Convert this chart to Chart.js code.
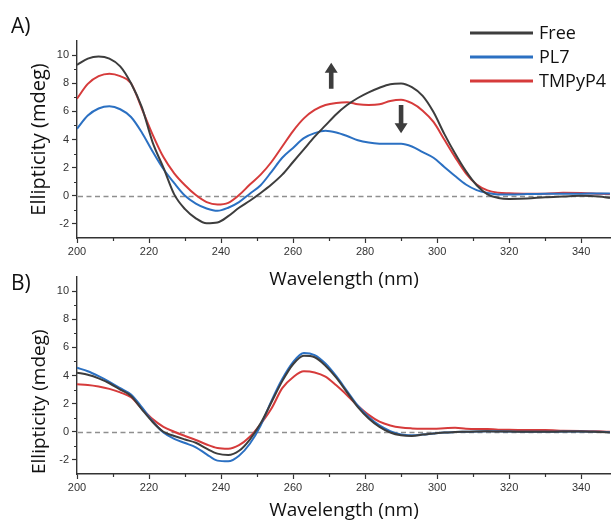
<!DOCTYPE html>
<html>
<head>
<meta charset="utf-8">
<script src="https://cdn.jsdelivr.net/npm/chart.js@4.4.1/dist/chart.umd.min.js"></script>
<style>
  html, body { margin: 0; padding: 0; background: #ffffff; overflow: hidden; width: 611px; height: 522px; }
  .panel { position: absolute; left: 0; width: 611px; }
  #panelA { top: 0; height: 292px; }
  #panelB { top: 262px; height: 260px; }
  canvas { display: block; }
</style>
</head>
<body>
<div class="panel" id="panelA"><canvas id="chartA" width="611" height="292"></canvas></div>
<div class="panel" id="panelB"><canvas id="chartB" width="611" height="260"></canvas></div>
<script>
// CD spectra, wavelength in nm, ellipticity in mdeg
const wavelengthNm = [200, 203, 206, 209, 212, 215, 218, 221, 224, 227, 230, 233, 236, 239, 242, 245, 248,
  251, 254, 257, 260, 263, 266, 269, 272, 275, 278, 281, 284, 287, 290, 293, 296, 299, 302, 305, 308,
  311, 314, 317, 320, 325, 330, 335, 340, 345, 348];

// Panel A
const freeA = [9.3, 9.75, 9.9, 9.75, 9.2, 8.0, 6.3, 3.8, 2.0, 0.1, -0.95, -1.6, -1.95, -1.9, -1.45, -0.85, -0.35,
  0.2, 0.8, 1.5, 2.4, 3.3, 4.2, 5.0, 5.8, 6.45, 6.95, 7.35, 7.68, 7.93, 7.98, 7.72, 7.1, 5.95, 4.4, 3.0, 1.75,
  0.75, 0.1, -0.15, -0.22, -0.2, -0.1, -0.05, 0.0, -0.05, -0.15];
const pl7A = [4.76, 5.7, 6.2, 6.36, 6.15, 5.6, 4.5, 3.15, 1.9, 0.9, 0.0, -0.55, -0.9, -1.07, -0.85, -0.45, 0.15,
  0.75, 1.7, 2.7, 3.4, 4.1, 4.45, 4.62, 4.5, 4.25, 3.95, 3.78, 3.7, 3.69, 3.69, 3.5, 3.1, 2.7, 2.05, 1.4, 0.8,
  0.4, 0.2, 0.1, 0.1, 0.12, 0.15, 0.15, 0.15, 0.17, 0.17];
const tmpyp4A = [6.9, 7.95, 8.5, 8.68, 8.5, 8.0, 6.2, 4.35, 2.75, 1.6, 0.75, 0.05, -0.45, -0.62, -0.5, 0.05, 0.8,
  1.5, 2.4, 3.5, 4.6, 5.5, 6.1, 6.45, 6.6, 6.65, 6.5, 6.45, 6.5, 6.74, 6.83, 6.58, 6.05, 5.25, 4.0, 2.75, 1.6,
  0.8, 0.38, 0.22, 0.18, 0.15, 0.15, 0.22, 0.2, 0.15, 0.12];

// Panel B
const freeB = [4.2, 4.05, 3.8, 3.45, 3.0, 2.55, 1.6, 0.7, 0.0, -0.3, -0.55, -0.78, -1.2, -1.55, -1.65, -1.35, -0.55,
  0.6, 2.1, 3.6, 4.8, 5.4, 5.3, 4.7, 3.85, 2.8, 1.75, 0.95, 0.35, -0.05, -0.25, -0.3, -0.2, -0.12, -0.05, -0.02, 0.0,
  0.02, 0.03, 0.02, 0.02, 0.0, 0.0, 0.02, 0.02, -0.02, -0.05];
const pl7B = [4.55, 4.3, 3.95, 3.55, 3.1, 2.65, 1.75, 0.75, -0.05, -0.5, -0.8, -1.1, -1.6, -2.05, -2.1, -1.7, -0.85,
  0.45, 2.2, 3.75, 4.95, 5.6, 5.45, 4.85, 3.95, 2.9, 1.85, 1.05, 0.45, 0.05, -0.2, -0.25, -0.2, -0.12, -0.05, -0.02, 0.0,
  0.02, 0.03, 0.03, 0.02, 0.0, 0.0, 0.02, 0.02, 0.0, -0.03];
const tmpyp4B = [3.37, 3.33, 3.22, 3.05, 2.8, 2.45, 1.65, 0.9, 0.35, 0.0, -0.3, -0.58, -0.9, -1.15, -1.2, -0.95, -0.35,
  0.55, 1.65, 3.1, 3.88, 4.3, 4.22, 3.92, 3.3, 2.6, 1.85, 1.2, 0.72, 0.45, 0.3, 0.24, 0.22, 0.22, 0.25, 0.28, 0.22,
  0.2, 0.2, 0.15, 0.15, 0.12, 0.12, 0.08, 0.05, 0.03, 0.0];

const seriesNames = ['Free', 'PL7', 'TMPyP4'];
const seriesColors = ['#3d3d3d', '#2b70c2', '#d63b3b'];

const xTickValues = [200, 220, 240, 260, 280, 300, 320, 340];
const xMinorValues = [210, 230, 250, 270, 290, 310, 330];
const yTickValues = [-2, 0, 2, 4, 6, 8, 10];
const yMinorValues = [-1, 1, 3, 5, 7, 9];

// trend arrows in panel A (wavelength, start, end in mdeg)
const arrowMarks = [
  { x: 270.6, from: 7.6, to: 9.45 },
  { x: 290.0, from: 6.45, to: 4.45 }
];

const TITLE_FONT = '"Open Sans", "DejaVu Sans", sans-serif';
const TICK_FONT = '"Liberation Sans", Arial, sans-serif';

const decorPlugin = {
  id: 'decor',
  beforeDatasetsDraw(chart) {
    const { ctx, chartArea, scales: { y } } = chart;
    const y0 = Math.round(y.getPixelForValue(0)) + 0.5;
    ctx.save();
    ctx.strokeStyle = '#8f8f8f';
    ctx.lineWidth = 1.4;
    ctx.setLineDash([5, 3.5]);
    ctx.beginPath();
    ctx.moveTo(chartArea.left + 1, y0);
    ctx.lineTo(chartArea.right, y0);
    ctx.stroke();
    ctx.restore();
  },
  afterDraw(chart, args, opts) {
    const { ctx, chartArea, scales: { x, y } } = chart;
    ctx.save();
    // minor ticks
    ctx.strokeStyle = '#333';
    ctx.lineWidth = 1.2;
    ctx.beginPath();
    xMinorValues.forEach(v => {
      const px = Math.round(x.getPixelForValue(v)) + 0.5;
      ctx.moveTo(px, chartArea.bottom);
      ctx.lineTo(px, chartArea.bottom + 3);
    });
    yMinorValues.forEach(v => {
      const py = Math.round(y.getPixelForValue(v)) + 0.5;
      ctx.moveTo(chartArea.left, py);
      ctx.lineTo(chartArea.left - 3, py);
    });
    ctx.stroke();

    // panel letter
    ctx.fillStyle = '#111';
    ctx.font = '21px ' + TITLE_FONT;
    ctx.textBaseline = 'middle';
    ctx.textAlign = 'left';
    ctx.fillText(opts.letter, 11, opts.letterY);

    // arrows
    (opts.arrows || []).forEach(a => {
      const px = x.getPixelForValue(a.x);
      const p0 = y.getPixelForValue(a.from);
      const p1 = y.getPixelForValue(a.to);
      const dir = p1 < p0 ? -1 : 1;
      const head = 10, shaft = 2.3, half = 6.5;
      const neck = p1 - dir * head;
      ctx.fillStyle = '#3d3d3d';
      ctx.beginPath();
      ctx.moveTo(px - shaft, p0);
      ctx.lineTo(px + shaft, p0);
      ctx.lineTo(px + shaft, neck);
      ctx.lineTo(px + half, neck);
      ctx.lineTo(px, p1);
      ctx.lineTo(px - half, neck);
      ctx.lineTo(px - shaft, neck);
      ctx.closePath();
      ctx.fill();
    });

    // legend
    if (opts.legend) {
      ctx.font = '18px ' + TITLE_FONT;
      chart.data.datasets.forEach((ds, i) => {
        const ly = 33 + i * 24;
        ctx.strokeStyle = ds.borderColor;
        ctx.lineWidth = 3;
        ctx.beginPath();
        ctx.moveTo(470, ly);
        ctx.lineTo(533, ly);
        ctx.stroke();
        ctx.fillStyle = '#111';
        ctx.fillText(ds.label, 539, ly + 1);
      });
    }
    ctx.restore();
  }
};

function makeChart(canvasId, series, cfg) {
  const datasets = series.map((vals, i) => ({
    label: seriesNames[i],
    data: wavelengthNm.map((w, k) => ({ x: w, y: vals[k] })),
    borderColor: seriesColors[i],
    borderWidth: 2,
    pointRadius: 0,
    cubicInterpolationMode: 'monotone',
    fill: false
  }));
  return new Chart(document.getElementById(canvasId), {
    type: 'line',
    data: { datasets },
    plugins: [decorPlugin],
    options: {
      responsive: false,
      animation: false,
      devicePixelRatio: 1,
      layout: { padding: { top: cfg.padTop, left: 0, right: 0, bottom: 0 } },
      plugins: {
        legend: { display: false },
        tooltip: { enabled: false },
        decor: { letter: cfg.letter, letterY: cfg.letterY, legend: cfg.legend, arrows: cfg.arrows }
      },
      scales: {
        x: {
          type: 'linear',
          min: 200,
          max: 348.3,
          afterBuildTicks: s => { s.ticks = xTickValues.map(v => ({ value: v })); },
          afterFit: s => { s.height = cfg.xHeight; },
          border: { display: true, color: '#333', width: 1.4 },
          grid: { drawOnChartArea: false, drawTicks: true, tickLength: 5, tickColor: '#333', tickWidth: 1.2 },
          ticks: { font: { family: TICK_FONT, size: 11 }, color: '#333', padding: 2, maxRotation: 0 },
          title: { display: true, text: 'Wavelength (nm)', color: '#111',
                   font: { family: TITLE_FONT, size: 19 }, padding: { top: 0, bottom: cfg.xTitlePad } }
        },
        y: {
          type: 'linear',
          min: -3,
          max: 11,
          afterBuildTicks: s => { s.ticks = yTickValues.map(v => ({ value: v })); },
          afterFit: s => { s.width = 77; },
          border: { display: true, color: '#333', width: 1.4 },
          grid: { drawOnChartArea: false, drawTicks: true, tickLength: 5, tickColor: '#333', tickWidth: 1.2 },
          ticks: { font: { family: TICK_FONT, size: 11 }, color: '#333', padding: 3 },
          title: { display: true, text: 'Ellipticity (mdeg)', color: '#111', align: cfg.yAlign,
                   font: { family: TITLE_FONT, size: cfg.yTitleSize }, padding: { top: cfg.yTitlePad, bottom: 0 } }
        }
      }
    }
  });
}

makeChart('chartA', [freeA, pl7A, tmpyp4A], {
  padTop: 41, xHeight: 54, xTitlePad: 1, letter: 'A)', letterY: 27, legend: true,
  arrows: arrowMarks, yAlign: 'center', yTitleSize: 20, yTitlePad: 27
});
makeChart('chartB', [freeB, pl7B, tmpyp4B], {
  padTop: 15, xHeight: 48, xTitlePad: 0, letter: 'B)', letterY: 22, legend: false,
  arrows: [], yAlign: 'start', yTitleSize: 19, yTitlePad: 28
});
</script>
</body>
</html>
